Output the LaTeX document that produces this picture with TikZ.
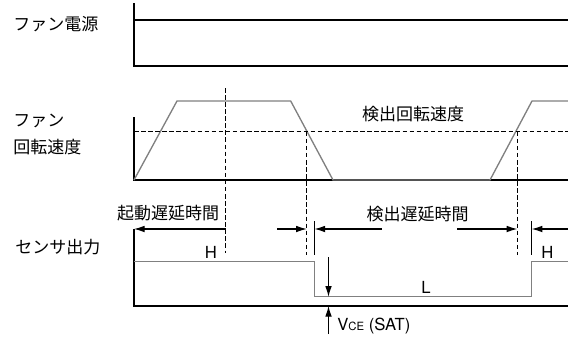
\documentclass[tikz,border=0pt]{standalone}
\usepackage{fontspec}
\setmainfont{TeX Gyre Heros}
\newfontfamily\jpfont{Noto Sans CJK JP}
\usepackage{tikz}
\usetikzlibrary{arrows.meta}
\usetikzlibrary{positioning}
\tikzset{axis/.style={line width=1pt}}
\tikzset{signal/.style={draw=gray, line width=1pt}}
\tikzset{marker/.style={dash pattern=on 3.4pt off 1.9pt, line width=1pt}}
\tikzset{delay/.style={-{Latex[length=8pt,width=5pt]}, line width=0.8pt}}
\tikzset{latin/.style={font=\fontsize{12.5}{14}\selectfont}}

\begin{document}
\begin{tikzpicture}[x=0.75pt, y=-0.75pt]
	% Default action for each node
	\tikzstyle{every node}=[inner sep=0pt, font=\fontsize{12.75}{15}\selectfont\jpfont];
	\useasboundingbox (0,0) rectangle (568,340);

	% FAN POWER
	\coordinate (pw top) at (134,3);
	\coordinate (pw on) at (134,20);		\coordinate (pw on end) at (568,20);
	\coordinate (pw origin) at (134,66);	\coordinate (pw end) at (568,66);
	\node[anchor=west] (pw label) at (13,24.5) {ファン電源};

	% FAN SPEED
	\coordinate (sp top) at (134,117);
	\coordinate (sp origin) at (134,180);	\coordinate (sp end) at (568,180);
	\coordinate (sp up1) at (177,101);		\coordinate (sp down1) at (290.7,101);	\coordinate (sp low1) at (333,180);
	\coordinate (sp low2) at (490,180);		\coordinate (sp up2) at (532,101);		\coordinate (sp high end) at (568,101);
	\coordinate (th west) at (134,131.7);	\coordinate (th east) at (568,131.7);
	\node[anchor=west] (sp label1) at (13,120.7) {ファン};
	\node[anchor=west] (sp label2) at (13,146.7) {回転速度};
	\node (th label) at (413,114) {検出回転速度};

	% SENSOR OUTPUT
	\coordinate (so top) at (134,229);
	\coordinate (so origin) at (134,306);	\coordinate (so end) at (568,306);
	\coordinate (so high) at (134,261.7);	\coordinate (so fall top) at (314.7,261.7);	\coordinate (so fall low) at (314.7,296.7);
	\coordinate (so rise low) at (531.7,296.7);	\coordinate (so rise top) at (531.7,261.7);	\coordinate (so high end) at (568,261.7);
	\node[anchor=west] (so label) at (15,247) {センサ出力};
	\node[latin] (h left) at (211,252) {H};
	\node[latin] (h right) at (547.5,252) {H};
	\node[latin] (l low) at (426,287) {L};

	% markers
	\coordinate (start north) at (225.7,88);	\coordinate (start south) at (225.7,253);
	\coordinate (det1 north) at (306.7,131.7);	\coordinate (det1 south) at (306.7,255);
	\coordinate (det2 north) at (517.3,131.7);	\coordinate (det2 south) at (517.3,255);

	% delays
	\coordinate (start end) at (225.7,229);
	\node (start label) at (168,213) {起動遅延時間};
	\coordinate (d1 west) at (277,229);		\coordinate (d1 mark) at (306.7,229);
	\coordinate (t1 north) at (314.5,221);	\coordinate (t1 mid) at (314.5,229);	\coordinate (t1 south) at (314.5,255);
	\coordinate (d1 east) at (381.7,229);
	\coordinate (d2 west) at (457.3,229);	\coordinate (d2 mark) at (517.3,229);
	\coordinate (t2 north) at (531.7,221);	\coordinate (t2 mid) at (531.7,229);	\coordinate (t2 south) at (531.7,255);
	\coordinate (d2 east) at (568,229);
	\node (det label) at (417.5,214) {検出遅延時間};

	% saturation
	\coordinate (vce top) at (328.5,257.3);	\coordinate (vce low) at (328.5,296.7);
	\coordinate (vce base) at (328.5,306);	\coordinate (vce bottom) at (328.5,334);
	\node[latin, anchor=west] (vce label) at (337,326) {V{\fontsize{8.5}{9}\selectfont CE} (SAT)};

	% Axes
	\draw[axis] (pw top) -- (pw origin) -- (pw end);
	\draw[axis] (pw on) -- (pw on end);
	\draw[axis] (sp top) -- (sp origin) -- (sp end);
	\draw[axis] (so top) -- (so origin) -- (so end);

	% Signals
	\draw[signal] (sp origin) -- (sp up1) -- (sp down1) -- (sp low1) -- (sp low2) -- (sp up2) -- (sp high end);
	\draw[signal] (so high) -- (so fall top) -- (so fall low) -- (so rise low) -- (so rise top) -- (so high end);

	% Dashed
	\draw[marker] (th west) -- (th east);
	\draw[marker] (start north) -- (start south);
	\draw[marker] (det1 north) -- (det1 south);
	\draw[marker] (det2 north) -- (det2 south);

	% Arrows
	\draw[delay, {Latex[length=8pt,width=5pt]}-] (so top) -- (start end);
	\draw[delay] (d1 west) -- (d1 mark);
	\draw[axis] (t1 north) -- (t1 south);
	\draw[delay] (d1 east) -- (t1 mid);
	\draw[delay] (d2 west) -- (d2 mark);
	\draw[axis] (t2 north) -- (t2 south);
	\draw[delay] (d2 east) -- (t2 mid);
	\draw[delay] (vce top) -- (vce low);
	\draw[delay] (vce bottom) -- (vce base);
\end{tikzpicture}
\end{document}
